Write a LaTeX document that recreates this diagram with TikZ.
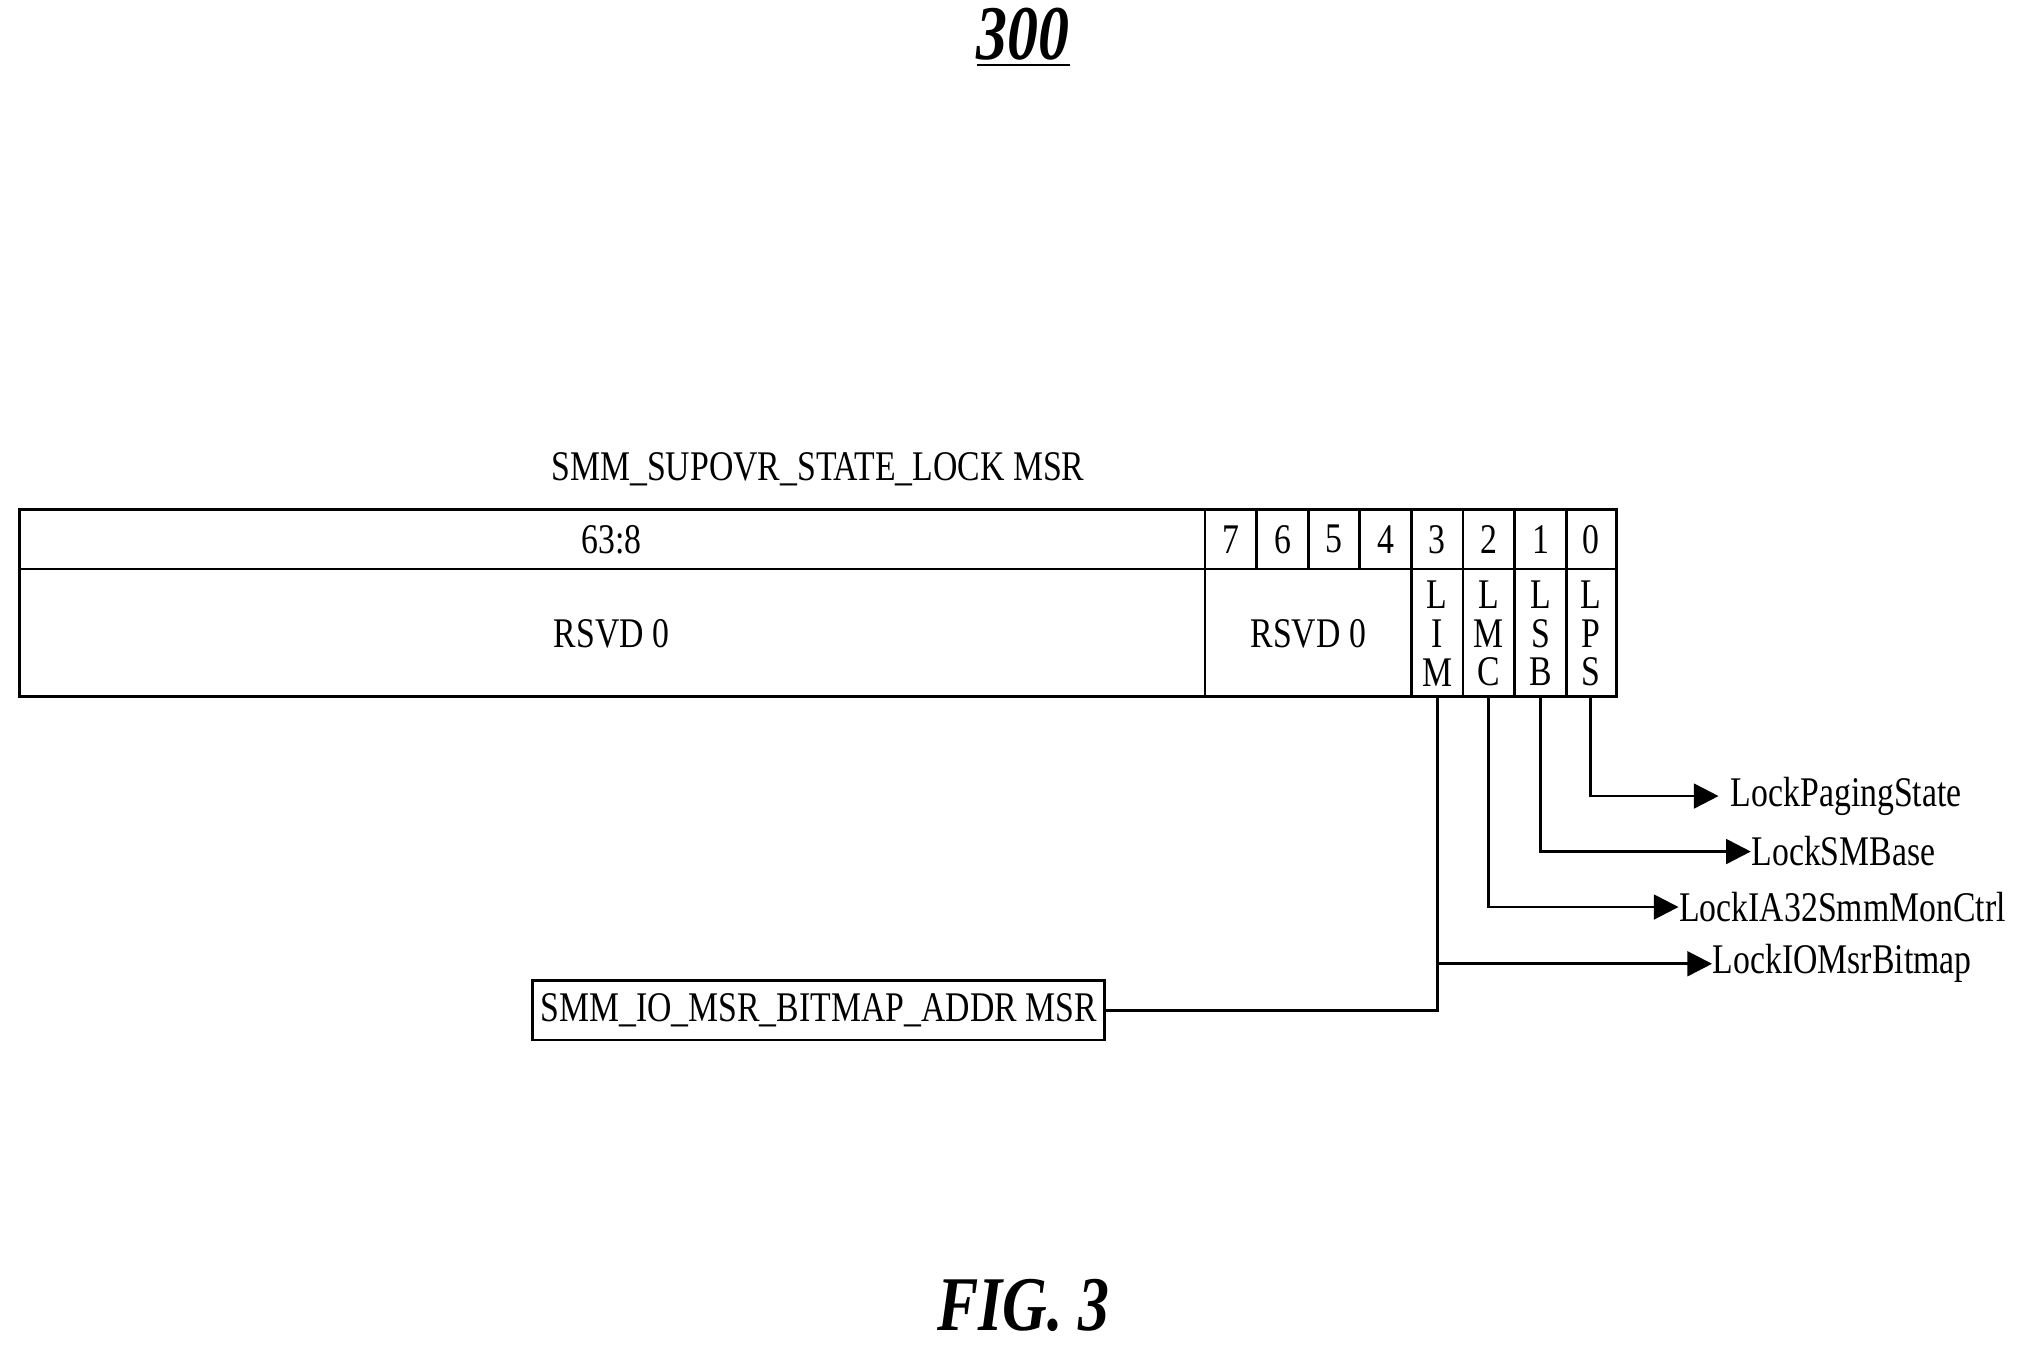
\documentclass[tikz,border=0pt]{standalone}
\usepackage{fontspec}
\setmainfont{Liberation Serif}[FakeStretch=0.8]
\usetikzlibrary{arrows.meta}

\begin{document}
\begin{tikzpicture}[x=0.0129cm, y=-0.0129cm,
    lbl/.style={font=\fontsize{12pt}{14pt}\selectfont},
    bitname/.style={lbl, align=center, font=\fontsize{12pt}{11pt}\selectfont},
    link/.style={thick, -{Triangle[length=7pt, width=7pt]}}]
    \useasboundingbox (0, 0) rectangle (1568, 1043);

    % title and caption
    \node (title) at (793, 29) {\fontsize{22pt}{26pt}\selectfont\bfseries\itshape\underline{300}};
    \node (caption) at (793, 1012) {\fontsize{22pt}{26pt}\selectfont\bfseries\itshape FIG. 3};
    \node[lbl] (msrname) at (634, 364) {SMM\_SUPOVR\_STATE\_LOCK MSR};

    % register outline
    \draw[thick] (15, 395) rectangle (1253, 540);
    \draw[thick] (15, 441) -- (1253, 441);
    \draw[thick] (934, 395) -- (934, 540);
    \foreach \x in {974, 1014, 1054} \draw[thick] (\x, 395) -- (\x, 441);
    \foreach \x in {1094, 1134, 1174, 1214} \draw[thick] (\x, 395) -- (\x, 540);

    % bit numbers
    \node[lbl] (hi) at (474, 418) {63:8};
    \foreach \b/\x in {7/954, 6/994, 5/1034, 4/1074, 3/1114, 2/1154, 1/1194, 0/1233}
        \node[lbl] (n\b) at (\x, 418) {\b};
    \node[lbl] (rsvdhi) at (474, 491) {RSVD 0};
    \node[lbl] (rsvdlo) at (1014, 491) {RSVD 0};

    % lock bits
    \node[bitname] (lim) at (1114, 491) {L\\I\\M};
    \node[bitname] (lmc) at (1154, 491) {L\\M\\C};
    \node[bitname] (lsb) at (1194, 491) {L\\S\\B};
    \node[bitname] (lps) at (1233, 491) {L\\P\\S};
    \foreach \n/\x in {lim/1114, lmc/1154, lsb/1194, lps/1233}
        \coordinate (\n-out) at (\x, 540);

    % targets
    \node[lbl, anchor=west] (pgst) at (1332, 617) {LockPagingState};
    \node[lbl, anchor=west, inner sep=0pt] (smbase) at (1357, 660) {LockSMBase};
    \node[lbl, anchor=west, inner sep=0pt] (monctrl) at (1301, 703) {LockIA32SmmMonCtrl};
    \node[lbl, anchor=west, inner sep=0pt] (iomsr) at (1327, 747) {LockIOMsrBitmap};
    \node[lbl, draw, thick, minimum width=443*0.0129cm, minimum height=46*0.0129cm, inner sep=0pt]
        (bitmap) at (634.5, 783) {SMM\_IO\_MSR\_BITMAP\_ADDR MSR};

    % connectors
    \draw[link] (lps-out) |- (pgst.west);
    \draw[link] (lsb-out) |- (smbase.west);
    \draw[link] (lmc-out) |- (monctrl.west);
    \draw[thick] (lim-out) |- (bitmap.east);
    \draw[link] (lim-out |- iomsr.west) -- (iomsr.west);
\end{tikzpicture}
\end{document}
